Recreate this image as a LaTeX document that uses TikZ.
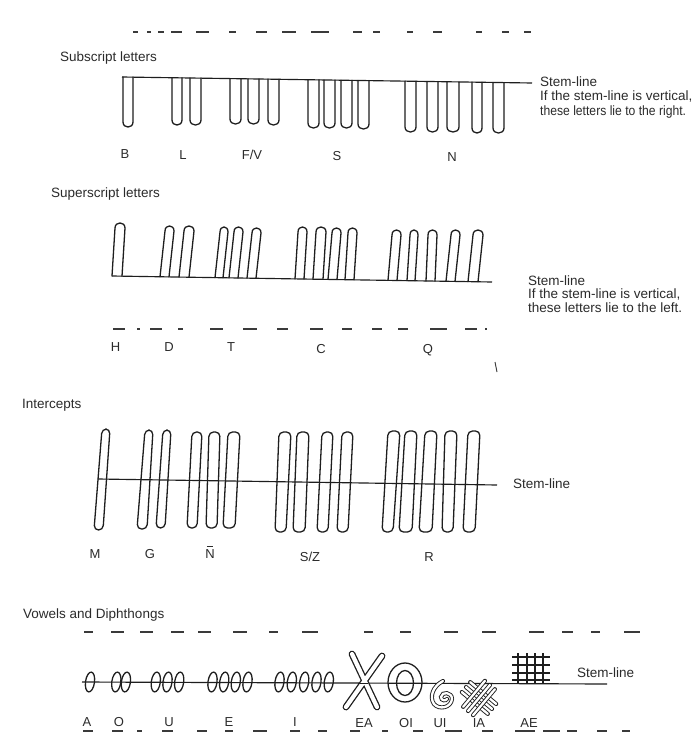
\documentclass[tikz,border=0pt]{standalone}
\usepackage{fontspec}
\setmainfont{Liberation Sans}
\newfontfamily\narrowsans[FakeStretch=0.9]{Liberation Sans}
\definecolor{inkc}{HTML}{1E1E1E}
\definecolor{txtc}{HTML}{2B2B2B}
\definecolor{dashc}{HTML}{3A3A3A}
\newcommand\substroke[3]{%
  \pgfmathsetmacro\oyt{77+(#1-123)*0.0147}%
  \pgfmathsetmacro\oytt{77+(#2-123)*0.0147}%
  \path[ink] (#1,\oyt) -- (#1,#3-5) .. controls (#1,#3+1.7) and (#2,#3+1.7) .. (#2,#3-5) -- (#2,\oytt);}
\newcommand\supstroke[4]{%
  \pgfmathsetmacro\oyb{276+(#1-112)*0.0158}%
  \pgfmathsetmacro\oybb{276+(#2-112)*0.0158}%
  \path[ink] (#1,\oyb) -- (#1+#4,#3+5) .. controls (#1+#4,#3-1.7) and (#2+#4,#3-1.7) .. (#2+#4,#3+5) -- (#2,\oybb);}
\newcommand\loopstroke[6]{%
  \path[ink, rounded corners=4.5pt] ({(#1+#3)/2},{(#5+#6)/2}) -- (#3,#5) -- (#4,#5) -- (#2,#6) -- (#1,#6) -- cycle;}
\newcommand\vowelnotch[1]{%
  \path[ink, rotate around={-8:(#1,682)}] (#1,682) ellipse (4.5 and 10);}
\newcommand\Nbar{\ooalign{N\cr\hidewidth\raisebox{11pt}{\rule{6.5pt}{0.9pt}}\hidewidth\cr}}
\begin{document}
\begin{tikzpicture}[x=1pt,y=-1pt,
  ink/.style={draw=inkc, line width=1.3pt, line cap=round, line join=round},
  stemline/.style={draw=inkc, line width=1.15pt},
  dashrow/.style={draw=dashc, line width=1.1pt},
  lbl/.style={text=txtc, font=\fontsize{13}{15}\selectfont, inner sep=0pt, anchor=base},
  ttl/.style={text=txtc, font=\fontsize{13.5}{15}\selectfont, inner sep=0pt, anchor=base west},
  note/.style={text=txtc, font=\fontsize{13.5}{15}\selectfont, inner sep=0pt, anchor=base west},
  dbl/.style={draw=inkc, line width=0.9pt, double=white, double distance=2.3pt, line cap=round}
]
\useasboundingbox (0,0) rectangle (696,736);
\clip (0,0) rectangle (696,736);
\fill[white] (0,0) rectangle (696,736);

% ---------- Subscript letters ----------
\foreach \a/\b in {133/138,147/151,158/164,171/182,196/209,229/236,256/267,282/296,311/329,353/362,373/380,407/413,433/442,476/482,502/509,524/531}
  \path[dashrow] (\a,32) -- (\b,32);
\node[ttl] (t1) at (60,61) {Subscript letters};
\coordinate (s1a) at (122,77);
\coordinate (s1b) at (532,83);
\path[stemline] (s1a) -- (s1b);
\substroke{123}{133}{127}
\substroke{172}{182}{125}\substroke{190}{201}{125}
\substroke{230}{241}{124}\substroke{248}{259}{124}\substroke{268}{279}{125}
\substroke{308}{319}{128}\substroke{324}{335}{128}\substroke{341}{352}{128}\substroke{358}{369}{129}
\substroke{405}{416}{132}\substroke{427}{438}{132}\substroke{447}{459}{132}\substroke{472}{482}{133}\substroke{493}{504}{133}
\node[lbl] (lB) at (125,158) {B};
\node[lbl] (lL) at (183,159) {L};
\node[lbl] (lF) at (252,159) {F/V};
\node[lbl] (lS) at (337,160) {S};
\node[lbl] (lN) at (452,161) {N};
\node[note] (n1a) at (540,86) {Stem-line};
\node[note] (n1b) at (540,100.5) {If the stem-line is vertical,};
\node[note, font=\narrowsans\fontsize{13.5}{15}\selectfont] (n1c) at (540,115) {these letters lie to the right.};

% ---------- Superscript letters ----------
\node[ttl] (t2) at (51,197) {Superscript letters};
\coordinate (s2a) at (112,276);
\coordinate (s2b) at (492,282);
\path[stemline] (s2a) -- (s2b);
\supstroke{112}{122}{223}{3}
\supstroke{160}{169}{226}{5}\supstroke{179}{189}{226}{5}
\supstroke{215}{223}{227}{5}\supstroke{229}{238}{227}{5}\supstroke{247}{256}{228}{5}
\supstroke{295}{304}{227}{3}\supstroke{313}{323}{227}{3}\supstroke{328}{337}{228}{4}\supstroke{345}{354}{228}{3}
\supstroke{388}{397}{230}{4}\supstroke{407}{415}{230}{3}\supstroke{426}{435}{230}{2}\supstroke{446}{455}{230}{5}\supstroke{468}{478}{230}{5}
\node[note] (n2a) at (528,285) {Stem-line};
\node[note] (n2b) at (528,298.5) {If the stem-line is vertical,};
\node[note] (n2c) at (528,312) {these letters lie to the left.};
\foreach \a/\b in {113/125,137/140,150/162,178/183,210/223,243/257,277/288,310/323,342/352,372/382,398/408,430/447,465/477,485/487}
  \path[dashrow] (\a,329) -- (\b,329);
\node[lbl] (lH) at (115.5,351) {H};
\node[lbl] (lD) at (169,351) {D};
\node[lbl] (lT) at (231,351) {T};
\node[lbl] (lC) at (321,353) {C};
\node[lbl] (lQ) at (428,353) {Q};
\coordinate (mk1) at (495,362);
\coordinate (mk2) at (497,372);
\path[draw=dashc, line width=0.9pt] (mk1) -- (mk2);

% ---------- Intercepts ----------
\node[ttl] (t3) at (22,408) {Intercepts};
\coordinate (s3a) at (98,479);
\coordinate (s3b) at (497,485);
\path[stemline] (s3a) -- (s3b);
\loopstroke{94}{103}{102}{110}{429}{530}
\loopstroke{137}{147}{145}{153}{430}{529}\loopstroke{156}{165}{163}{171}{430}{528}
\loopstroke{187}{197}{192}{202}{432}{528}\loopstroke{206}{217}{209}{220}{432}{528}\loopstroke{223}{235}{228}{240}{432}{528}
\loopstroke{275}{286}{279}{291}{432}{532}\loopstroke{293}{305}{297}{309}{432}{532}\loopstroke{317}{328}{322}{333}{432}{532}\loopstroke{337}{348}{342}{353}{432}{532}
\loopstroke{382}{393}{388}{400}{431}{532}\loopstroke{399}{412}{405}{417}{431}{532}\loopstroke{419}{432}{425}{437}{431}{532}\loopstroke{442}{453}{445}{457}{431}{532}\loopstroke{463}{475}{468}{480}{431}{532}
\node[note] (n3) at (513,488) {Stem-line};
\node[lbl] (lM) at (95,558) {M};
\node[lbl] (lG) at (150,558) {G};
\node[lbl] (lNN) at (210,558) {\Nbar};
\node[lbl] (lSZ) at (310,561) {S/Z};
\node[lbl] (lR) at (429,561) {R};

% ---------- Vowels and Diphthongs ----------
\node[ttl] (t4) at (23,618) {Vowels and Diphthongs};
\foreach \a/\b in {84/93,111/124,140/153,171/184,198/211,233/247,269/278,302/318,364/373,400/411,444/458,482/496,529/544,562/573,591/600,624/640}
  \path[dashrow] (\a,632) -- (\b,632);
\coordinate (s4a) at (82,682);
\coordinate (s4b) at (607,684);
\path[stemline] (s4a) -- (s4b);
\vowelnotch{90}
\vowelnotch{116.3}\vowelnotch{125.9}
\vowelnotch{155.8}\vowelnotch{167.5}\vowelnotch{179.2}
\vowelnotch{212.5}\vowelnotch{224.2}\vowelnotch{235.8}\vowelnotch{247.5}
\vowelnotch{279.5}\vowelnotch{291.8}\vowelnotch{304.2}\vowelnotch{316.5}\vowelnotch{328.8}
% EA
\path[draw=inkc, line width=6.8pt, line cap=round] (352,654) -- (377,707);
\path[draw=inkc, line width=6.8pt, line cap=round] (382,656) -- (346,707);
\path[draw=white, line width=4.2pt, line cap=round] (352,654) -- (377,707);
\path[draw=white, line width=4.2pt, line cap=round] (382,656) -- (346,707);
\path[draw=inkc, line width=0.8pt] (358,683) -- (368,683);
% OI
\path[ink] (405,682.5) ellipse (17 and 19.5);
\path[ink] (405,683) ellipse (8.5 and 12.5);
% UI
\path[dbl] (443,681) .. controls (433,686) and (429,697) .. (434,704) .. controls (439,710) and (451,708) .. (452,699) .. controls (452,692) and (442,691) .. (441,697) .. controls (441,701) and (446,701) .. (447,699);
% IA
\begin{scope}[shift={(479,698)}, rotate=-40]
  \foreach \i in {-6.5,0,6.5} {\path[dbl] (-17,\i) -- (17,\i);}
  \foreach \i in {-6.5,0,6.5} {\path[dbl] (\i,-17) -- (\i,17);}
\end{scope}
% AE
\foreach \y in {657,665,673,680} \path[draw=inkc, line width=1.6pt] (512,\y) -- (550,\y);
\foreach \x in {518,527,535,543} \path[draw=inkc, line width=1.6pt] (\x,653) -- (\x,684);
\node[note] (n4) at (577,677) {Stem-line};
\foreach \a/\b in {83/93,112/123,137/142,162/173,197/207,225/233,253/267,290/300,318/327,350/360,382/388,413/423,445/462,482/493,515/535,543/560,567/577,597/607,622/630}
  \path[dashrow] (\a,731) -- (\b,731);
\node[lbl] (vA) at (87,726) {A};
\node[lbl] (vO) at (119,726) {O};
\node[lbl] (vU) at (169,726) {U};
\node[lbl] (vE) at (229,726) {E};
\node[lbl] (vI) at (295,726) {I};
\node[lbl] (vEA) at (364,727) {EA};
\node[lbl] (vOI) at (406,727) {OI};
\node[lbl] (vUI) at (440,727) {UI};
\node[lbl] (vIA) at (479,727) {IA};
\node[lbl] (vAE) at (529,727) {AE};
\end{tikzpicture}
\end{document}
